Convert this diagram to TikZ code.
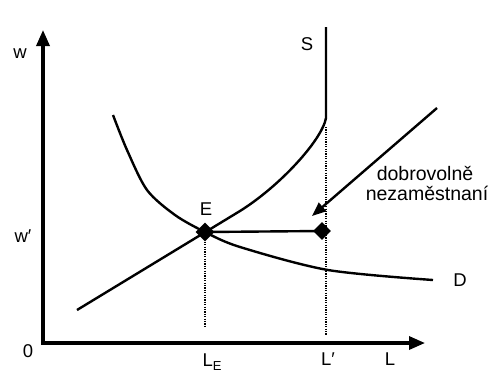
\documentclass[tikz,border=0pt]{standalone}
\usepackage{fontspec}
\setmainfont{Liberation Sans}
\usetikzlibrary{arrows.meta,shapes.geometric}
\begin{document}
\begin{tikzpicture}[x=1bp,y=-1bp,
  lab/.style={font=\fontsize{18.5bp}{20bp}\selectfont, inner sep=0pt, anchor=base},
  note/.style={font=\fontsize{19.5bp}{21bp}\selectfont, inner sep=0pt, anchor=base},
  axisline/.style={line width=3.3bp,{Triangle[length=16bp,width=13bp]}-{Triangle[length=16bp,width=13bp]}},
  curveline/.style={line width=2.4bp},
  guide/.style={line width=1.2bp,dash pattern=on 1.2bp off 1.2bp},
  pt/.style={diamond,fill=black,inner sep=0pt,minimum size=19bp}]
\useasboundingbox (0,0) rectangle (490,373);
% axes
\coordinate (O) at (43,343);
\coordinate (ytip) at (43,30);
\coordinate (xtip) at (425,343);
\draw[axisline] (ytip) -- (O) -- (xtip);
% points
\node[pt] (E) at (205,232) {};
\node[pt,minimum size=18bp] (U) at (322,231) {};
% supply curve S
\coordinate (S0) at (77,310);
\coordinate (S1) at (240,211);
\coordinate (K) at (326,118);
\coordinate (Stop) at (326,27);
\draw[curveline] (S0) -- (S1) .. controls (280,186) and (322,140) .. (K) -- (Stop);
% demand curve D
\draw[curveline] plot[smooth] coordinates {(113,115) (127,150) (147,190) (175,215) (205,232) (240,247) (328,270) (433,280)};
% horizontal line from E
\draw[curveline] (E.center) -- (U.center);
% dotted guides
\coordinate (LE) at (205,328);
\coordinate (Lp) at (326,335);
\draw[guide] (E.south) -- (LE);
\draw[guide] (326,127) -- (Lp);
% arrow to voluntary unemployment
\coordinate (A0) at (437,108);
\coordinate (A1) at (312,216);
\draw[curveline,-{Triangle[length=14bp,width=11bp]}] (A0) -- (A1);
% labels
\node[lab] (lw) at (20,58) {w};
\node[lab] (lwp) at (23,242) {w′};
\node[lab] (l0) at (28,357) {0};
\node[lab] (lE) at (206,215) {E};
\node[lab] (lS) at (307,50) {S};
\node[lab] (lD) at (460,286) {D};
\node[lab] (lLE) at (212,366) {L\raisebox{-4bp}{\fontsize{13bp}{13bp}\selectfont E}};
\node[lab] (lLp) at (328,365) {L′};
\node[lab] (lL) at (390,365) {L};
\node[note] (t1) at (425,180) {dobrovolně};
\node[note] (t2) at (427,200) {nezaměstnaní};
\end{tikzpicture}
\end{document}
